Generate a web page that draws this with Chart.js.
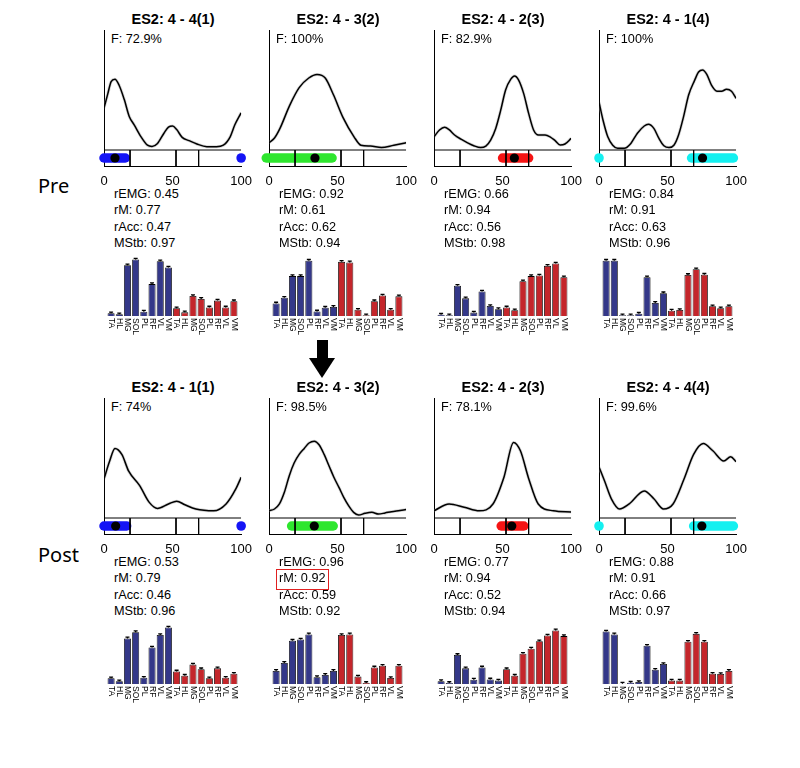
<!DOCTYPE html>
<html><head><meta charset="utf-8">
<script src="https://cdn.jsdelivr.net/npm/chart.js@4"></script>
<style>
body{margin:0;background:#fff;}
#wrap{position:relative;width:800px;height:768px;overflow:hidden;font-family:Arial,"Liberation Sans",sans-serif;background:#fff;}
.t{position:absolute;white-space:nowrap;color:#000;line-height:1;}
canvas{position:absolute;}
</style></head><body><div id="wrap"></div>
<script>
// ---------------- DATA ----------------
const muscles = ["TA","HL","MG","SOL","PL","RF","VL","VM","TA","HL","MG","SOL","PL","RF","VL","VM"];
const xTicks = [0, 50, 100];
const phaseLines = [19, 52.5, 69];

const preTitles  = ["ES2: 4 - 4(1)", "ES2: 4 - 3(2)", "ES2: 4 - 2(3)", "ES2: 4 - 1(4)"];
const postTitles = ["ES2: 4 - 1(1)", "ES2: 4 - 3(2)", "ES2: 4 - 2(3)", "ES2: 4 - 4(4)"];
const preF  = ["F: 72.9%", "F: 100%", "F: 82.9%", "F: 100%"];
const postF = ["F: 74%", "F: 98.5%", "F: 78.1%", "F: 99.6%"];

const preREMG = [0.45, 0.92, 0.66, 0.84];
const preRM   = [0.77, 0.61, 0.94, 0.91];
const preRAcc = [0.47, 0.62, 0.56, 0.63];
const preMStb = [0.97, 0.94, 0.98, 0.96];
const postREMG = [0.53, 0.96, 0.77, 0.88];
const postRM   = [0.79, 0.92, 0.94, 0.91];
const postRAcc = [0.46, 0.59, 0.52, 0.66];
const postMStb = [0.96, 0.92, 0.94, 0.97];

// activation curves [x (% cycle), normalised amplitude]
const preCurve1 = [[0,.35],[2.8,.47],[5.2,.57],[8,.59],[11,.54],[14.8,.42],[18.4,.28],[22,.21],[27,.11],[31.7,.04],[35,.03],[39,.055],[43.7,.14],[47,.19],[50,.2],[53,.17],[57,.105],[62,.078],[67.7,.05],[75,.028],[82,.028],[87,.04],[92,.11],[95.4,.21],[100,.31]];
const preCurve2 = [[0,.06],[4,.1],[8,.18],[15,.37],[22,.52],[29,.6],[35,.63],[41,.6],[47,.46],[54,.27],[62,.11],[67,.04],[74,.033],[82,.02],[91,.04],[100,.06]];
const preCurve3 = [[0,.11],[4,.167],[7.7,.19],[11,.17],[15,.125],[19.7,.09],[24.5,.06],[29,.036],[34,.02],[37.8,.033],[41.3,.083],[45,.18],[48.6,.33],[52.2,.5],[56,.59],[58.7,.617],[61.7,.583],[65.4,.47],[69,.305],[72.6,.167],[76.2,.125],[81,.125],[84.6,.11],[88.3,.078],[92,.042],[95.5,.05],[100,.097]];
const preCurve4 = [[0,.4],[2.9,.25],[6.4,.11],[10,.04],[13.6,.014],[18.4,.014],[23.2,.055],[28,.14],[33,.2],[36,.214],[40,.18],[43.7,.097],[47.3,.036],[51,.02],[54.6,.04],[58,.125],[61.7,.28],[65.4,.46],[69.7,.58],[72.6,.65],[75.5,.667],[78.6,.63],[82,.54],[86,.49],[89.4,.49],[93,.506],[96.6,.49],[100,.43]];
const postCurve1 = [[0,.325],[4,.47],[8,.58],[13,.53],[18,.39],[26,.27],[33,.13],[39,.08],[47,.117],[53,.14],[59,.11],[67,.075],[80,.06],[89,.117],[96,.24],[100,.34]];
const postCurve2 = [[0,.061],[4,.075],[7.6,.117],[11.2,.214],[14.8,.353],[18.4,.46],[22,.53],[25.7,.58],[29.2,.625],[33,.64],[36.5,.61],[40.2,.53],[43.7,.436],[47.3,.34],[51,.255],[54.5,.172],[58,.103],[61.7,.047],[65.4,.025],[70,.039],[75,.047],[79.8,.033],[84.6,.042],[89.4,.053],[94.3,.061],[100,.07]];
const postCurve3 = [[0,.06],[11,.117],[22,.09],[33,.06],[43,.117],[51,.34],[58,.63],[63,.56],[69,.33],[76,.117],[87,.06],[100,.05]];
const postCurve4 = [[0,.425],[4,.31],[9,.16],[15,.075],[22,.117],[33,.225],[40,.16],[47,.075],[54,.117],[62,.325],[69,.53],[76,.62],[83,.56],[91,.475],[96,.51],[100,.47]];

// activation band [start, end], isolated points, mean (black dot)
const preBand  = [[0,15.5],[-2,46],[50,69],[67.5,98]];
const preExtra = [[100],[],[],[0]];
const preMean  = [8, 33.5, 58.6, 75.5];
const postBand  = [[0,16.5],[16.5,46.8],[49,65.5],[69,98]];
const postExtra = [[100],[],[],[0]];
const postMean  = [8.5, 33, 56.7, 75];
const bandColors = ["#1414f5", "#2ee62e", "#f51414", "#14f0f0"];

// muscle activation weights (16 muscles)
const preBars1 = [.047,.03,.89,.99,.076,.56,.96,.85,.135,.064,.35,.30,.15,.27,.15,.26];
const preBars2 = [.22,.32,.70,.70,.97,.08,.146,.16,.95,.94,.11,.012,.26,.36,.11,.345];
const preBars3 = [.023,.012,.53,.31,.06,.43,.175,.12,.15,.10,.61,.70,.71,.88,.92,.68];
const preBars4 = [.97,.97,.012,.012,.04,.68,.23,.40,.094,.105,.72,.82,.725,.17,.135,.17];
const postBars1 = [.10,.047,.80,.91,.11,.64,.86,.99,.22,.146,.34,.26,.10,.275,.11,.18];
const postBars2 = [.23,.37,.76,.78,.87,.12,.16,.23,.86,.87,.13,.018,.29,.32,.105,.32];
const postBars3 = [.05,.018,.51,.275,.076,.29,.08,.06,.26,.146,.53,.62,.75,.85,.94,.84];
const postBars4 = [.92,.87,.006,.023,.035,.67,.25,.35,.06,.06,.74,.88,.74,.18,.175,.23];

// ---------------- DRAWING ----------------
const wrap = document.getElementById('wrap');
function txt(s, left, top, css){
  const d = document.createElement('div');
  d.className = 't'; d.textContent = s;
  d.style.left = left + 'px'; d.style.top = top + 'px';
  Object.assign(d.style, css || {});
  wrap.appendChild(d); return d;
}
function canvasAt(left, top, w, h){
  const c = document.createElement('canvas');
  c.width = w; c.height = h;
  c.style.left = left + 'px'; c.style.top = top + 'px';
  c.style.width = w + 'px'; c.style.height = h + 'px';
  wrap.appendChild(c); return c;
}
const YMIN = -16/120, BANDY = -8/120;
const BLUE = '#343889', RED = '#c4262b';

const barLabelPlugin = {
  id: 'barLabels',
  afterDraw(chart){
    const ctx = chart.ctx, xs = chart.scales.x, b = chart.chartArea.bottom;
    ctx.save();
    ctx.font = '8.5px Arial';
    ctx.fillStyle = '#000';
    ctx.textBaseline = 'middle';
    ctx.textAlign = 'left';
    chart.data.labels.forEach((lab, i) => {
      const x = xs.getPixelForValue(i);
      ctx.save();
      ctx.translate(x, b + 2);
      ctx.rotate(Math.PI/2);
      ctx.fillText(lab, 0, 0);
      ctx.restore();
    });
    // error caps on bars
    const meta = chart.getDatasetMeta(0);
    ctx.strokeStyle = '#000'; ctx.lineWidth = 1.3;
    meta.data.forEach(el => {
      ctx.beginPath();
      ctx.moveTo(el.x - 2, el.y - 1.2); ctx.lineTo(el.x + 2, el.y - 1.2);
      ctx.moveTo(el.x, el.y); ctx.lineTo(el.x, el.y - 1.6);
      ctx.stroke();
    });
    ctx.restore();
  }
};

function linePanel(c, dy, curve, band, extra, mean, color){
  const axisLeft = 104 + 165*c;
  const cv = canvasAt(axisLeft - 15, 25 + dy, 171, 172);
  const pts = curve.map(p => ({x:p[0], y:p[1]}));
  const ds = [];
  ds.push({data:[{x:mean,y:BANDY}], showLine:false, pointRadius:4.6, pointBackgroundColor:'#000', pointBorderWidth:0, order:0, clip:false});
  phaseLines.forEach(v => ds.push({data:[{x:v,y:0},{x:v,y:YMIN}], borderColor:'#000', borderWidth:1, pointRadius:0, order:1}));
  ds.push({data:[{x:0,y:0},{x:100,y:0}], borderColor:'#000', borderWidth:1, pointRadius:0, order:1});
  ds.push({data:[{x:band[0],y:BANDY},{x:band[1],y:BANDY}], borderColor:color, borderWidth:9.5, borderCapStyle:'round', pointRadius:0, order:2, clip:false});
  extra.forEach(v => ds.push({data:[{x:v,y:BANDY}], showLine:false, pointRadius:4.8, pointBackgroundColor:color, pointBorderWidth:0, order:2, clip:false}));
  ds.push({data:pts, borderColor:'#000', borderWidth:1.5, pointRadius:0, cubicInterpolationMode:'monotone', order:3});
  ds.push({data:pts, borderColor:'rgba(150,150,150,0.4)', borderWidth:3, pointRadius:0, cubicInterpolationMode:'monotone', order:4});
  new Chart(cv, {
    type:'scatter',
    data:{datasets:ds.map(d => Object.assign({showLine:true, fill:false}, d))},
    options:{
      responsive:false, animation:false, events:[],
      layout:{padding:{left:15, right:17, top:5, bottom:0}},
      plugins:{legend:{display:false}, tooltip:{enabled:false}},
      scales:{
        x:{type:'linear', min:0, max:100, afterBuildTicks:s => { s.ticks = xTicks.map(v => ({value:v})); },
           grid:{display:false, drawTicks:false}, border:{display:true, color:'#000', width:1},
           ticks:{color:'#000', font:{size:13, family:'Arial'}, padding:8, maxRotation:0},
           afterFit:s => { s.height = 31; }},
        y:{type:'linear', min:YMIN, max:1, grid:{display:false, drawTicks:false},
           border:{display:true, color:'#000', width:1}, ticks:{display:false},
           afterFit:s => { s.width = 0; }}
      }
    }
  });
}

function barPanel(c, dy, vals){
  const cv = canvasAt(107 + 165*c - 12, 250 + dy, 160, 90);
  new Chart(cv, {
    type:'bar',
    data:{labels:muscles, datasets:[{data:vals,
      backgroundColor:vals.map((v,i) => i < 8 ? BLUE : RED),
      borderColor:'#000', borderWidth:0.8, barPercentage:0.86, categoryPercentage:1}]},
    options:{
      responsive:false, animation:false, events:[],
      layout:{padding:{left:12, right:17, top:9, bottom:24}},
      plugins:{legend:{display:false}, tooltip:{enabled:false}},
      scales:{x:{display:false}, y:{display:false, min:0, max:1}}
    },
    plugins:[barLabelPlugin]
  });
}

function panel(c, row){
  const dy = row * 368;
  const titles = row ? postTitles : preTitles;
  const F = row ? postF : preF;
  const rE = row ? postREMG : preREMG, rM = row ? postRM : preRM, rA = row ? postRAcc : preRAcc, mS = row ? postMStb : preMStb;
  const curves = row ? [postCurve1,postCurve2,postCurve3,postCurve4] : [preCurve1,preCurve2,preCurve3,preCurve4];
  const bars = row ? [postBars1,postBars2,postBars3,postBars4] : [preBars1,preBars2,preBars3,preBars4];
  const band = row ? postBand : preBand, extra = row ? postExtra : preExtra, mean = row ? postMean : preMean;
  const ax = 104 + 165*c;
  txt(titles[c], ax + 69 - 100, 12 + dy, {fontWeight:'bold', fontSize:'14.5px', width:'200px', textAlign:'center'});
  txt(F[c], ax + 7, 33 + dy, {fontSize:'12.7px'});
  const lines = ['rEMG: ' + rE[c].toFixed(2), 'rM: ' + rM[c].toFixed(2), 'rAcc: ' + rA[c].toFixed(2), 'MStb: ' + mS[c].toFixed(2)];
  lines.forEach((s,i) => txt(s, ax + 10, 188 + dy + i*16.3, {fontSize:'12.7px'}));
  linePanel(c, dy, curves[c], band[c], extra[c], mean[c], bandColors[c]);
  barPanel(c, dy, bars[c]);
}
for (let r = 0; r < 2; r++) for (let c = 0; c < 4; c++) panel(c, r);

txt('Pre', 38, 176, {fontSize:'20px', fontFamily:'"Noto Sans", Arial, sans-serif'});
txt('Post', 38, 545, {fontSize:'20px', fontFamily:'"Noto Sans", Arial, sans-serif'});

// arrow
const shaft = document.createElement('div');
Object.assign(shaft.style, {position:'absolute', left:'317px', top:'340px', width:'11px', height:'20px', background:'#000'});
wrap.appendChild(shaft);
const head = document.createElement('div');
Object.assign(head.style, {position:'absolute', left:'309px', top:'358px', width:'0', height:'0', borderLeft:'13.5px solid transparent', borderRight:'13.5px solid transparent', borderTop:'20px solid #000'});
wrap.appendChild(head);
// highlight box
const box = document.createElement('div');
Object.assign(box.style, {position:'absolute', left:'276px', top:'569px', width:'51px', height:'19px', border:'1px solid #e02020'});
wrap.appendChild(box);
</script></body></html>
